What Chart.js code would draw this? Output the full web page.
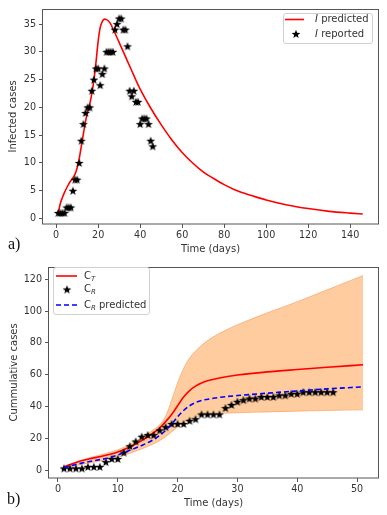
<!DOCTYPE html>
<html><head><meta charset="utf-8">
<script src="https://cdn.jsdelivr.net/npm/chart.js@4.4.1/dist/chart.umd.min.js"></script>
<style>
html,body{margin:0;padding:0;background:#fff;}
#wrap{position:relative;width:387px;height:515px;overflow:hidden;background:#fff;}
canvas{position:absolute;left:0;}
#c1{top:0;} #c2{top:258px;}
.lab{position:absolute;font-family:"Liberation Serif","DejaVu Serif",serif;font-size:16px;color:#111;line-height:1;}
</style></head><body>
<div id="wrap">
<canvas id="c1" width="387" height="258"></canvas>
<canvas id="c2" width="387" height="257"></canvas>
<div class="lab" style="left:8px;top:236px">a)</div>
<div class="lab" style="left:7px;top:491px">b)</div>
</div>
<script>
// ---------- Panel a) data ----------
const repDays = Array.from({length:46},(_,i)=>i+1);
const repI = [1,1,1,1,2,2,2,5,7,7,10,14,17,19,20,20,23,25,27,27,24,26,27,30,30,30,30,34,35,36,36,34,34,31,23,22,23,21,21,17,18,18,18,17,14,13];
const predDays = [1,2,3,4,5,6,7,8,9,10,11,12,13,14,15,16,17,18,19,20,21,22,23,24,25,26,27,28,30,32,34,36,38,40,45,50,55,60,65,70,75,80,85,90,95,100,110,120,130,140,146];
const predI = [1.0,2.7,3.8,4.7,5.5,6.2,6.8,7.3,8.0,9.1,10.8,13.0,15.3,17.5,19.2,20.6,22.5,25.0,28.2,31.9,34.4,35.5,35.9,35.8,35.5,35.0,34.2,33.4,31.7,30.0,28.3,26.6,24.9,23.3,19.9,16.9,14.2,11.9,10.0,8.4,7.2,6.1,5.2,4.5,3.9,3.35,2.45,1.8,1.3,0.98,0.82];
const xTicksA = [0,20,40,60,80,100,120,140];
const yTicksA = [0,5,10,15,20,25,30,35];

// ---------- Panel b) data ----------
const crDays = Array.from({length:46},(_,i)=>i+1);
const crRep = [1,1,1,1,2,2,2,5,7,7,11,15,18,21,22,22,25,27,29,29,29,31,32,35,35,35,35,39,41,43,44,45,45,46,46,46,47,47,48,48,49,49,49,49,49,49];
const ctDays = [1,3,5,8,10,12,14,16,17,18,19,20,21,22,23,24,25,27,30,35,40,45,51];
const ctPred = [2.0,4.8,6.8,9.3,11.4,14.5,18.6,23.5,26.5,30.5,35,40.5,46,50,52.8,54.8,56.2,58,59.8,61.8,63.3,64.7,66.3];
const crPredDays = [1,3,5,8,10,12,14,16,17,18,19,20,21,22,23,24,26,28,30,35,40,45,51];
const crPred = [1.5,3.5,5.2,7.3,9.5,12.5,15.5,19.2,21.8,25,29,33.5,37.5,40.5,42.5,43.8,45.2,46.2,46.9,48.4,49.8,51.1,52.4];
const bandDays = [1,3,5,8,10,12,14,16,17,18,19,20,21,22,23,25,28,30,35,40,45,51];
const bandUpper = [2.2,5,7.5,10.5,12.8,16,20.5,25.5,28.5,34,44,55,64,70.5,75,81.5,88,91.5,99,106,113.5,122.5];
const bandLower = [1.2,2.8,4.3,6.3,8.0,10.5,13.3,16.5,18.5,21,24,27,29.8,32,33.5,35,35.8,36.1,36.6,37.1,37.5,37.9];
const xTicksB = [0,10,20,30,40,50];
const yTicksB = [0,20,40,60,80,100,120];

const pts = (xs, ys) => xs.map((x,i)=>({x, y:ys[i]}));

// star marker
function makeStar(){
  const c = document.createElement('canvas'); c.width = 10; c.height = 10;
  const g = c.getContext('2d'); g.fillStyle = '#000'; g.beginPath();
  const cx=5, cy=5.3, R=4.6, r=1.9;
  for (let k=0;k<10;k++){
    const a = -Math.PI/2 + k*Math.PI/5; const rr = k%2? r:R;
    const px = cx + rr*Math.cos(a), py = cy + rr*Math.sin(a);
    k? g.lineTo(px,py) : g.moveTo(px,py);
  }
  g.closePath(); g.fill(); return c;
}
const star = makeStar();

const FONT = '"DejaVu Sans", sans-serif';
const TXT = '#333';
const tickFont = {family: FONT, size: 9.6};
const titleFont = {family: FONT, size: 10};

const frame = {id:'frame', afterDatasetsDraw(chart){
  const {ctx, chartArea:a} = chart; ctx.save();
  ctx.strokeStyle = '#555'; ctx.lineWidth = 1;
  ctx.strokeRect(Math.round(a.left)-0.5, Math.round(a.top)+0.5, Math.round(a.right-a.left)+1, Math.round(a.bottom-a.top)-0.5);
  ctx.restore();
}};

function drawRich(ctx, x, y, parts, size){
  ctx.textBaseline = 'middle'; ctx.textAlign = 'left'; ctx.fillStyle = TXT;
  for (const p of parts){
    const fs = p.sub ? size*0.7 : size;
    ctx.font = (p.it ? 'italic ' : '') + fs + 'px ' + FONT;
    ctx.fillText(p.t, x, y + (p.sub ? size*0.3 : 0));
    x += ctx.measureText(p.t).width;
  }
}
const customLegend = {id:'customLegend', afterDraw(chart, args, o){
  if (!o || !o.box) return;
  const ctx = chart.ctx; ctx.save();
  const [x0,y0,x1,y1] = o.box;
  ctx.beginPath(); ctx.roundRect(x0+0.5,y0+0.5,x1-x0,y1-y0,2.5);
  ctx.fillStyle = 'rgba(255,255,255,0.85)'; ctx.fill();
  ctx.strokeStyle = '#d0d0d0'; ctx.lineWidth = 1; ctx.stroke();
  for (const it of o.items){
    if (it.kind === 'line'){
      ctx.beginPath(); ctx.strokeStyle = it.color; ctx.lineWidth = 1.6;
      ctx.setLineDash(it.dash || []); ctx.moveTo(it.x0, it.y); ctx.lineTo(it.x1, it.y); ctx.stroke(); ctx.setLineDash([]);
    } else {
      ctx.drawImage(star, it.x - 5, it.y - 5);
    }
    drawRich(ctx, it.tx, it.y, it.text, 10);
  }
  ctx.restore();
}};

function scaleX(min, max, ticks, h, title, tpad){
  return {type:'linear', min, max,
    afterBuildTicks: s => { s.ticks = ticks.map(v=>({value:v})); },
    afterFit: s => { s.height = h; },
    grid:{display:true, drawOnChartArea:false, drawTicks:true, tickLength:4, color:'#555', tickWidth:1},
    border:{display:false},
    ticks:{padding:2, font:tickFont, color:TXT, maxRotation:0, autoSkip:false},
    title:{display:true, text:title, font:titleFont, color:TXT, padding:{top:0,bottom:tpad}}};
}
function scaleY(min, max, ticks, w, title, tpad){
  return {type:'linear', min, max,
    afterBuildTicks: s => { s.ticks = ticks.map(v=>({value:v})); },
    afterFit: s => { s.width = w; },
    grid:{display:true, drawOnChartArea:false, drawTicks:true, tickLength:4, color:'#555', tickWidth:1},
    border:{display:false},
    ticks:{padding:3, font:tickFont, color:TXT, autoSkip:false},
    title:{display:true, text:title, font:titleFont, color:TXT, padding:{top:tpad,bottom:0}}};
}

new Chart(document.getElementById('c1'), {
  type:'scatter',
  data:{datasets:[
    {label:'I reported', data: pts(repDays, repI), pointStyle: star, pointRadius:5, showLine:false, order:0},
    {type:'line', label:'I predicted', data: pts(predDays, predI), borderColor:'#ff0000', borderWidth:1.6, pointRadius:0, cubicInterpolationMode:'monotone', fill:false, order:1}
  ]},
  options:{
    responsive:false, animation:false, devicePixelRatio:1,
    layout:{padding:{top:5,right:9,left:0,bottom:0}},
    plugins:{legend:{display:false}, tooltip:{enabled:false},
      customLegend:{box:[283,13,372,43], items:[
        {kind:'line', color:'#ff0000', x0:285, x1:304, y:19.5, tx:315, text:[{t:'I',it:true},{t:' predicted'}]},
        {kind:'star', x:296, y:34, tx:315, text:[{t:'I',it:true},{t:' reported'}]}
      ]}},
    scales:{
      x: scaleX(-6.25, 153.25, xTicksA, 34, 'Time (days)', 3),
      y: scaleY(-0.98, 37.76, yTicksA, 43, 'Infected cases', 7)
    }
  },
  plugins:[frame, customLegend]
});

new Chart(document.getElementById('c2'), {
  type:'scatter',
  data:{datasets:[
    {type:'line', label:'upper', data: pts(bandDays, bandUpper), borderColor:'rgba(240,130,60,0.45)', borderWidth:1, backgroundColor:'rgba(255,127,14,0.4)', fill:'+1', pointRadius:0, cubicInterpolationMode:'monotone', order:10},
    {type:'line', label:'lower', data: pts(bandDays, bandLower), borderColor:'rgba(240,130,60,0.45)', borderWidth:1, fill:false, pointRadius:0, cubicInterpolationMode:'monotone', order:11},
    {type:'line', label:'C_T', data: pts(ctDays, ctPred), borderColor:'#ff0000', borderWidth:1.6, pointRadius:0, cubicInterpolationMode:'monotone', fill:false, order:3},
    {label:'C_R', data: pts(crDays, crRep), pointStyle: star, pointRadius:5, showLine:false, order:2},
    {type:'line', label:'C_R predicted', data: pts(crPredDays, crPred), borderColor:'#0000ff', borderWidth:1.6, borderDash:[5,3], pointRadius:0, cubicInterpolationMode:'monotone', fill:false, order:1}
  ]},
  options:{
    responsive:false, animation:false, devicePixelRatio:1,
    layout:{padding:{top:6,right:9,left:0,bottom:0}},
    plugins:{legend:{display:false}, tooltip:{enabled:false}, filler:{propagate:false},
      customLegend:{box:[53,9,149,56], items:[
        {kind:'line', color:'#ff0000', x0:56, x1:77, y:18, tx:84, text:[{t:'C'},{t:'T',it:true,sub:true}]},
        {kind:'star', x:67, y:31.5, tx:84, text:[{t:'C'},{t:'R',it:true,sub:true}]},
        {kind:'line', color:'#0000ff', dash:[5,3], x0:56, x1:77, y:47, tx:84, text:[{t:'C'},{t:'R',it:true,sub:true},{t:' predicted'}]}
      ]}},
    scales:{
      x: scaleX(-1.5, 53.5, xTicksB, 37, 'Time (days)', 6),
      y: scaleY(-5.0, 128.0, yTicksB, 49, 'Cummulative cases', 8)
    }
  },
  plugins:[frame, customLegend]
});
</script>
</body></html>
